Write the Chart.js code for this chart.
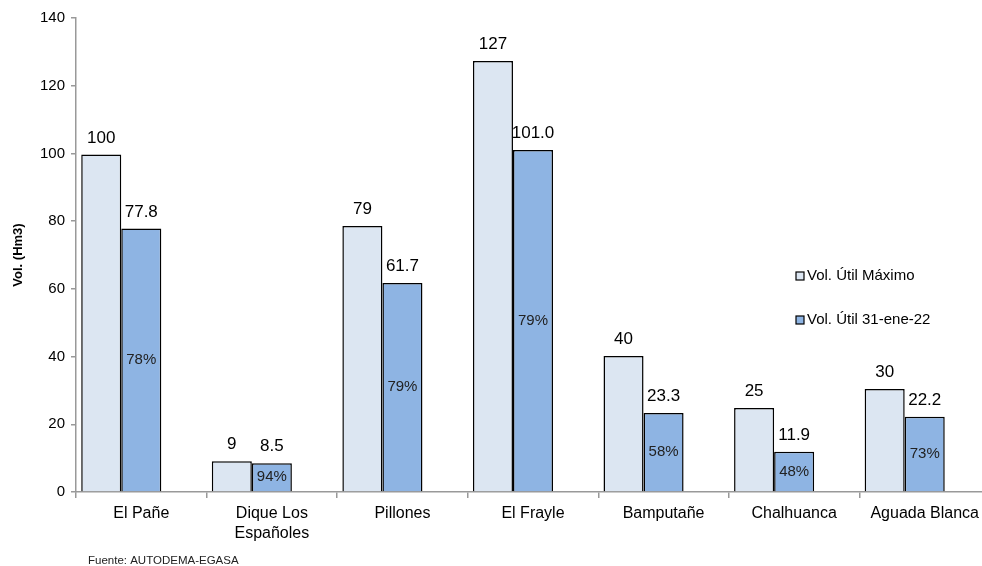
<!DOCTYPE html>
<html lang="es">

<head>
    <meta charset="UTF-8">
    <title>Volumen útil de represas</title>
    <script src="https://cdn.jsdelivr.net/npm/chart.js"></script>
    <style>
        html, body { margin: 0; padding: 0; background: #fff; overflow: hidden; }
        .grafico { width: 990px; height: 566px; }
    </style>
</head>

<body>
    <div class="grafico">
        <canvas id="graficoBarra" width="990" height="566"></canvas>
    </div>

<script>

    // datos
    const represas = ['El Pañe', ['Dique Los', 'Españoles'], 'Pillones', 'El Frayle', 'Bamputañe', 'Chalhuanca', 'Aguada Blanca'];
    const volMaximo = [99.7, 9.1, 78.6, 127.3, 40.2, 24.8, 30.4];
    const volActual = [77.8, 8.5, 61.7, 101.0, 23.3, 11.9, 22.2];
    const etiquetasMaximo = ['100', '9', '79', '127', '40', '25', '30'];
    const etiquetasActual = ['77.8', '8.5', '61.7', '101.0', '23.3', '11.9', '22.2'];
    const porcentajes = ['78%', '94%', '79%', '79%', '58%', '48%', '73%'];
    // tercera serie vacia (ocupa su lugar en cada grupo, como en el original)
    const serieVacia = [null, null, null, null, null, null, null];
    const ticksY = [0, 20, 40, 60, 80, 100, 120, 140];
    const series = ['Vol. Útil Máximo', 'Vol. Útil 31-ene-22'];
    const colores = ['#dce6f2', '#8eb4e3'];

    const fuente = 'Arial, "Liberation Sans", sans-serif';

    // etiquetas, leyenda y fuente dibujadas a mano
    const etiquetas = {
        id: 'etiquetas',
        afterDatasetsDraw(chart) {
            const ctx = chart.ctx;
            ctx.save();
            ctx.fillStyle = '#000';
            ctx.textAlign = 'center';

            const textos = [etiquetasMaximo, etiquetasActual];
            [0, 1].forEach(function (i) {
                chart.getDatasetMeta(i).data.forEach(function (bar, j) {
                    ctx.font = '17px ' + fuente;
                    ctx.textBaseline = 'bottom';
                    ctx.fillText(textos[i][j], bar.x, bar.y - 8);
                    if (i == 1) {
                        ctx.font = '15px ' + fuente;
                        ctx.textBaseline = 'middle';
                        ctx.fillStyle = '#222';
                        ctx.fillText(porcentajes[j], bar.x, (bar.y + bar.base) / 2);
                        ctx.fillStyle = '#000';
                    }
                });
            });

            // leyenda
            ctx.textAlign = 'left';
            ctx.textBaseline = 'middle';
            ctx.font = '15px ' + fuente;
            const posY = [276, 320];
            series.forEach(function (nombre, i) {
                ctx.fillStyle = colores[i];
                ctx.fillRect(796, posY[i] - 4, 8, 8);
                ctx.strokeStyle = '#000';
                ctx.lineWidth = 1.2;
                ctx.strokeRect(796, posY[i] - 4, 8, 8);
                ctx.fillStyle = '#000';
                ctx.fillText(nombre, 807, posY[i]);
            });

            // fuente
            ctx.font = '11.5px ' + fuente;
            ctx.fillStyle = '#222';
            ctx.fillText('Fuente: AUTODEMA-EGASA', 88, 561);
            ctx.restore();
        }
    };

    const ctx = document.getElementById('graficoBarra');
    new Chart(ctx, {
        type: 'bar',
        data: {
            labels: represas,
            datasets: [{
                label: series[0],
                data: volMaximo,
                backgroundColor: colores[0],
                borderColor: '#000',
                borderWidth: 1.5,
                categoryPercentage: 0.92,
                barPercentage: 1.0
            }, {
                label: series[1],
                data: volActual,
                backgroundColor: colores[1],
                borderColor: '#000',
                borderWidth: 1.5,
                categoryPercentage: 0.92,
                barPercentage: 1.0
            }, {
                label: '',
                data: serieVacia,
                categoryPercentage: 0.92,
                barPercentage: 1.0
            }]
        },
        options: {
            responsive: false,
            animation: false,
            layout: { padding: { top: 18, left: 0, right: 0, bottom: 0 } },
            plugins: {
                legend: { display: false },
                tooltip: { enabled: false }
            },
            scales: {
                x: {
                    afterFit: function (scale) { scale.height = 74; },
                    grid: {
                        offset: true,
                        drawOnChartArea: false,
                        tickLength: 6,
                        color: '#999',
                        lineWidth: 1.5
                    },
                    border: { color: '#999', width: 1.5 },
                    ticks: {
                        color: '#000',
                        padding: 6,
                        maxRotation: 0,
                        autoSkip: false,
                        font: { family: fuente, size: 16, lineHeight: 1.25 }
                    }
                },
                y: {
                    min: 0,
                    max: 140,
                    afterFit: function (scale) { scale.width = 76; },
                    afterBuildTicks: function (scale) {
                        scale.ticks = ticksY.map(function (v) { return { value: v }; });
                    },
                    grid: {
                        drawOnChartArea: false,
                        tickLength: 5,
                        color: '#999',
                        lineWidth: 1.5
                    },
                    border: { color: '#999', width: 1.5 },
                    ticks: {
                        color: '#000',
                        padding: 6,
                        font: { family: fuente, size: 15 }
                    },
                    title: {
                        display: true,
                        text: 'Vol. (Hm3)',
                        color: '#000',
                        padding: { top: 11, bottom: 0 },
                        font: { family: fuente, size: 13, weight: 'bold' }
                    }
                }
            }
        },
        plugins: [etiquetas]
    });

</script>
</body>

</html>
